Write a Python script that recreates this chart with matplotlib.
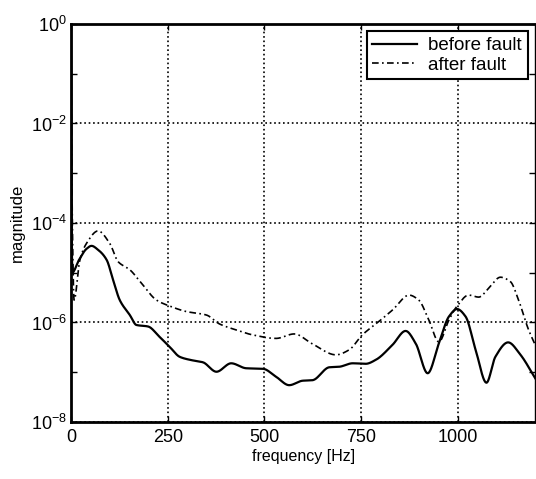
#!/usr/bin/env python3
"""Spectrum magnitude before / after fault (log scale)."""

import matplotlib

matplotlib.use("Agg")
import matplotlib.pyplot as plt
from matplotlib.ticker import FixedLocator, FuncFormatter, NullLocator
import numpy as np

plt.rcParams["font.family"] = ["Liberation Sans", "DejaVu Sans"]
plt.rcParams["mathtext.fontset"] = "custom"
plt.rcParams["mathtext.rm"] = "Liberation Sans"

# --- data (frequency in Hz, log10 of magnitude) ---
FREQ_BEFORE = [0, 1, 3, 20, 40, 53, 70, 92, 109, 126, 152, 169, 199, 229, 255,
               281, 307, 341, 376, 414, 453, 496, 530, 564, 599, 624, 668, 693,
               728, 762, 788, 831, 865, 891, 922, 951, 977, 998, 1020, 1046,
               1074, 1097, 1130, 1162, 1200]
LOG_BEFORE = [0.0, -2.5, -5.0, -4.75, -4.52, -4.46, -4.54, -4.74, -5.15, -5.55,
              -5.85, -6.05, -6.08, -6.29, -6.49, -6.69, -6.75, -6.80, -6.99,
              -6.82, -6.92, -6.93, -7.09, -7.26, -7.17, -7.16, -6.90, -6.89,
              -6.82, -6.83, -6.75, -6.45, -6.17, -6.42, -7.02, -6.42, -5.88,
              -5.73, -5.88, -6.55, -7.21, -6.69, -6.40, -6.65, -7.12]

FREQ_AFTER = [0, 2, 8, 23, 40, 70, 100, 122, 152, 182, 221, 255, 298, 350, 384,
              427, 470, 530, 577, 624, 685, 719, 753, 796, 831, 874, 899, 925,
              951, 977, 998, 1028, 1054, 1080, 1110, 1136, 1157, 1183, 1200]
LOG_AFTER = [-0.3, -3.0, -5.55, -4.74, -4.41, -4.16, -4.41, -4.78, -4.94, -5.21,
             -5.55, -5.67, -5.78, -5.85, -6.03, -6.15, -6.25, -6.32, -6.23,
             -6.43, -6.65, -6.55, -6.25, -5.98, -5.75, -5.45, -5.55, -5.95,
             -6.39, -5.95, -5.67, -5.45, -5.49, -5.31, -5.09, -5.18, -5.55,
             -6.15, -6.45]

X_TICKS = [0, 250, 500, 750, 1000]
Y_DECADES = [-8, -6, -4, -2, 0]
Y_ODD = [-7, -5, -3, -1]


def pchip(fx, ly, n=1500):
    # monotone cubic (Fritsch-Carlson) through the read points, no overshoot
    f = np.asarray(fx, float)
    y = np.asarray(ly, float)
    h = np.diff(f)
    d = np.diff(y) / h
    m = np.zeros_like(y)
    for i in range(1, len(y) - 1):
        if d[i - 1] * d[i] > 0:
            w1 = 2 * h[i] + h[i - 1]
            w2 = h[i] + 2 * h[i - 1]
            m[i] = (w1 + w2) / (w1 / d[i - 1] + w2 / d[i])
    m[0], m[-1] = d[0], d[-1]
    xs = np.linspace(f[0], f[-1], n)
    i = np.clip(np.searchsorted(f, xs) - 1, 0, len(f) - 2)
    t = (xs - f[i]) / h[i]
    out = ((2 * t**3 - 3 * t**2 + 1) * y[i] + (t**3 - 2 * t**2 + t) * h[i] * m[i]
           + (-2 * t**3 + 3 * t**2) * y[i + 1] + (t**3 - t**2) * h[i] * m[i + 1])
    return xs, 10.0 ** out


fig = plt.figure(figsize=(5.36, 4.79), dpi=100)
ax = fig.add_axes([0.1325, 0.119, 0.866, 0.831])

xb, yb = pchip(FREQ_BEFORE, LOG_BEFORE)
xa, ya = pchip(FREQ_AFTER, LOG_AFTER)
ax.plot(xb, yb, "-", color="black", lw=1.6, label="before fault")
ax.plot(xa, ya, "-.", color="black", lw=1.2, dashes=(4, 2, 1, 2), label="after fault")

ax.set_yscale("log")
ax.set_xlim(0, 1200)
ax.set_ylim(1e-8, 1e0)

ax.xaxis.set_major_locator(FixedLocator(X_TICKS))
ax.yaxis.set_major_locator(FixedLocator([10.0**d for d in Y_DECADES]))
ax.yaxis.set_minor_locator(FixedLocator([10.0**d for d in Y_ODD]))
ax.xaxis.set_minor_locator(NullLocator())
ax.yaxis.set_major_formatter(
    FuncFormatter(lambda v, _: r"$10^{%d}$" % round(np.log10(v)))
)
ax.yaxis.set_minor_formatter(FuncFormatter(lambda v, _: ""))

ax.tick_params(which="both", direction="in", top=True, right=True,
               labelsize=13, width=1, length=4)
ax.tick_params(axis="y", pad=3)
ax.tick_params(axis="x", pad=5)
ax.grid(True, which="major", color="black", linestyle=":", linewidth=1.2)

for side in ("left", "bottom", "top"):
    ax.spines[side].set_linewidth(2)
ax.spines["right"].set_linewidth(1)

ax.set_xlabel("frequency [Hz]", fontsize=11.5, labelpad=2)
ax.set_ylabel("magnitude", fontsize=12, labelpad=4)

leg = ax.legend(loc="upper right", fontsize=13.5, fancybox=False, framealpha=1,
                borderpad=0.3, handlelength=2.4, handletextpad=0.6,
                labelspacing=0.12, borderaxespad=0.4)
leg.get_frame().set_edgecolor("black")
leg.get_frame().set_linewidth(1.5)

fig.savefig("out.png", dpi=100)
